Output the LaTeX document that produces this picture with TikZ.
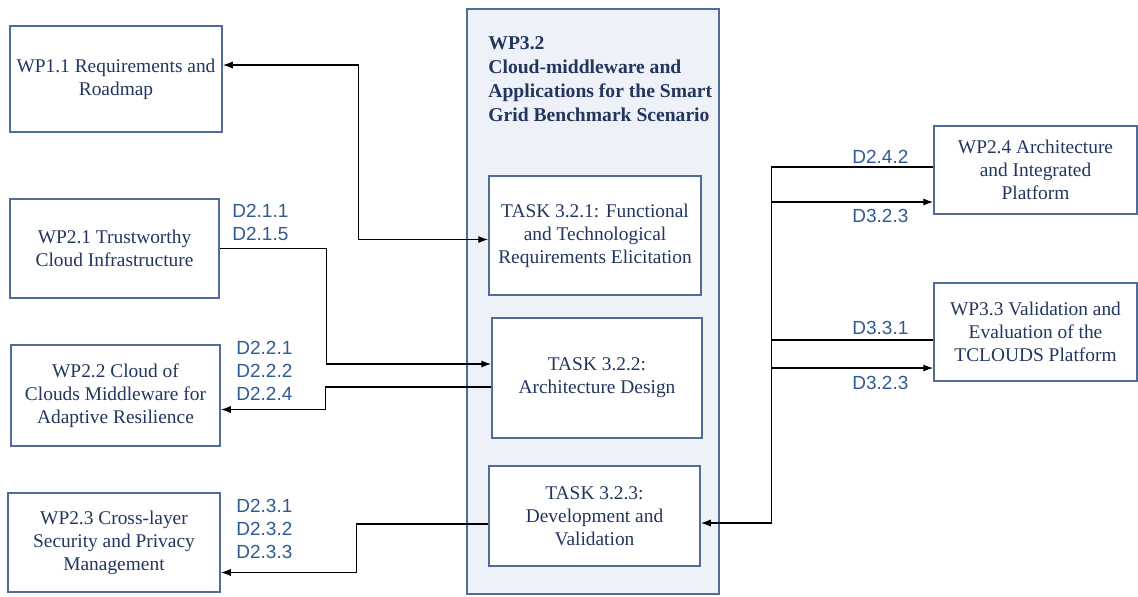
\documentclass[tikz,border=0pt]{standalone}
\usepackage{fontspec}
\setmainfont{Liberation Serif}
\setsansfont{Liberation Sans}
\usetikzlibrary{arrows.meta}
\definecolor{boxline}{HTML}{4F6D96}
\definecolor{boxtext}{HTML}{22365E}
\definecolor{dtext}{HTML}{2F5A93}
\definecolor{wpfill}{HTML}{EEF1F7}
\tikzset{
  wp/.style={draw=boxline, line width=0.75pt, fill=white, align=center, text=boxtext, font=\fontsize{9.7}{11.5}\selectfont, inner sep=2pt},
  link/.style={line width=0.7pt, >={Latex[length=5pt,width=3.6pt]}},
  dlab/.style={align=left, text=dtext, font=\sffamily\fontsize{9.5}{11.5}\selectfont, inner sep=0pt, anchor=west},
}

\begin{document}
\begin{tikzpicture}[x=0.5pt,y=-0.5pt]
	\useasboundingbox (0,0) rectangle (1138,596);
	% WP3.2 frame and its tasks
	\node[draw=boxline, line width=0.8pt, fill=wpfill, minimum width=126pt, minimum height=292.5pt] (wp32) at (593,301.5) {};
	\node[anchor=north west, align=left, text=boxtext, font=\bfseries\fontsize{9.8}{12}\selectfont, inner sep=0pt] (wp32t) at (488,36) {WP3.2\\Cloud-middleware and\\Applications for the Smart\\Grid Benchmark Scenario};
	\node[wp, minimum width=106pt, minimum height=59.5pt] (taska) at (595,235.5) {TASK 3.2.1: Functional\\and Technological\\Requirements Elicitation};
	\node[wp, minimum width=105pt, minimum height=60pt] (taskb) at (597,378) {TASK 3.2.2:\\Architecture Design};
	\node[wp, minimum width=105.5pt, minimum height=50pt] (taskc) at (594.5,516) {TASK 3.2.3:\\Development and\\Validation};
	% left work packages
	\node[wp, minimum width=106pt, minimum height=53pt] (wpa) at (116,79) {WP1.1 Requirements and\\Roadmap};
	\node[wp, minimum width=104.5pt, minimum height=49.5pt] (wpb) at (114.5,248.5) {WP2.1 Trustworthy\\Cloud Infrastructure};
	\node[wp, minimum width=104.5pt, minimum height=50.5pt] (wpc) at (115.5,395.5) {WP2.2 Cloud of\\Clouds Middleware for\\Adaptive Resilience};
	\node[wp, minimum width=106pt, minimum height=49.5pt] (wpd) at (114,542.5) {WP2.3 Cross-layer\\Security and Privacy\\Management};
	% right work packages
	\node[wp, minimum width=101.5pt, minimum height=44pt] (wpe) at (1035.5,170) {WP2.4 Architecture\\and Integrated\\Platform};
	\node[wp, minimum width=101.5pt, minimum height=49pt] (wpf) at (1035.5,332) {WP3.3 Validation and\\Evaluation of the\\TCLOUDS Platform};
	% deliverables
	\node[dlab] (lb) at (232,222.5) {D2.1.1\\D2.1.5};
	\node[dlab] (lc) at (236,371) {D2.2.1\\D2.2.2\\D2.2.4};
	\node[dlab] (ld) at (236,529) {D2.3.1\\D2.3.2\\D2.3.3};
	\node[dlab] (le1) at (852,157) {D2.4.2};
	\node[dlab] (le2) at (852,216) {D3.2.3};
	\node[dlab] (lf1) at (852,328) {D3.3.1};
	\node[dlab] (lf2) at (852,383) {D3.2.3};
	% connectors
	\draw[link,<->] ([yshift=7pt]wpa.east) -- ++(136,0) |- ([yshift=-2pt]taska.west);
	\draw[link,->] (wpb.east) -- ++(107,0) |- ([yshift=7pt]taskb.west);
	\draw[link,->] ([yshift=-4.5pt]taskb.west) -- ++(-166,0) |- ([yshift=-7pt]wpc.east);
	\draw[link,->] ([yshift=-4pt]taskc.west) -- ++(-132,0) |- ([yshift=-15pt]wpd.east);
	\draw[link,->] ([yshift=1.5pt]wpe.west) -- ++(-162,0) |- ([yshift=-3.5pt]taskc.east);
	\draw[link,<-] ([yshift=-16pt]wpe.west) -- ++(-162,0);
	\draw[link] ([yshift=-4pt]wpf.west) -- ++(-162,0);
	\draw[link,<-] ([yshift=-18pt]wpf.west) -- ++(-162,0);
\end{tikzpicture}
\end{document}
